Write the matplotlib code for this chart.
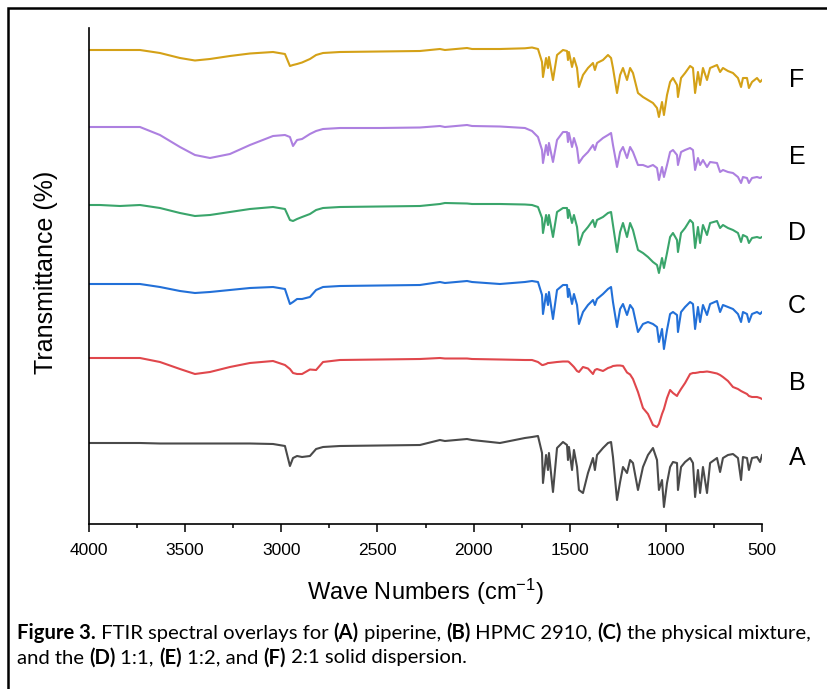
import matplotlib.pyplot as plt
from matplotlib.patches import Rectangle
from matplotlib.ticker import MultipleLocator

plt.rcParams["font.family"] = ["Liberation Sans", "DejaVu Sans"]
plt.rcParams["mathtext.fontset"] = "custom"
plt.rcParams["mathtext.rm"] = "Liberation Sans"
plt.rcParams["mathtext.default"] = "rm"

# wave numbers (cm-1) shared by every spectrum
wavenumber = [
    4000, 3943, 3839, 3735, 3631, 3527, 3449, 3371, 3267, 3163,
    3043, 2981, 2955, 2939, 2918, 2892, 2851, 2819, 2783, 2695,
    2487, 2279, 2175, 2149, 2034, 2008, 1863, 1733, 1696,
    1665, 1644, 1639, 1623, 1613, 1608, 1587, 1566, 1535, 1514,
    1509, 1504, 1488, 1478, 1462, 1452, 1431, 1405, 1379, 1369,
    1358, 1327, 1301, 1285, 1275, 1254, 1238, 1223, 1202, 1186,
    1171, 1145, 1119, 1093, 1067, 1046, 1036, 1020, 1010, 994,
    978, 963, 942, 937, 921, 900, 874, 859, 848, 833,
    822, 807, 786, 770, 734, 718, 703, 677, 651, 625,
    609, 599, 578, 568, 552, 526, 510, 500,
]

# relative transmittance of each sample (0 = flat baseline)
piperine = [
    0, 0, 0, 0, -0.5, -0.5, -0.5, -0.5, -0.5, -0.5,
    -1, -3, -23, -15, -13, -14, -13, -6, -4, -3,
    -2.5, -2, 3, 2, 4, 3, 0, 5, 6,
    7, -10, -40, -12, -27, -10, -49, -5, 1, -2,
    -17, -4, -27, -7, -24, -47, -50, -30, -15, -27,
    -12, -5, 0, 1, -14, -57, -39, -24, -30, -17,
    -20, -47, -24, -12, -5, -17, -47, -37, -64, -40,
    -24, -19, -20, -47, -24, -19, -15, -20, -54, -27,
    -50, -24, -50, -20, -15, -29, -15, -12, -11, -15,
    -37, -14, -15, -27, -15, -14, -19, -12,
]
hpmc_2910 = [
    0, 0, 0, 0, -4, -11, -16, -14, -9, -5,
    -3, -7, -11, -15, -16, -16, -11.5, -12, -4, -2,
    -1.5, -1, 0, -0.5, -0.5, -1, -1.5, -2, -2,
    -4, -7, -7, -6, -5, -5, -4.5, -4, -3.5, -3.5,
    -3.5, -4, -7, -9, -13, -14, -9, -10.5, -16, -12,
    -11, -13, -10, -9, -8, -7.5, -7.5, -8, -14.5, -16.5,
    -21, -34, -50, -56, -67, -69, -66, -56, -51, -40,
    -32, -35, -38, -36, -31, -25, -16, -15, -15, -14.5,
    -14, -14, -13.5, -14, -15.5, -17, -19, -23, -29, -31,
    -33, -34, -36, -38, -39, -39, -40, -41,
]
physical_mixture = [
    0, 0, 0, 0, -3, -7, -9, -8, -6, -4,
    -3, -5, -20, -18, -15, -15, -13, -6, -3, -2,
    -1.5, -1, 2, 1, 3, 2, 0, 2, 3,
    2, -11, -30, -10, -21, -8, -35, -6, -1, -1,
    -13, -5, -20, -10, -21, -40, -28, -21, -16, -21,
    -15, -10, -5, -3, -18, -43, -25, -20, -31, -21,
    -25, -48, -40, -38, -40, -43, -58, -45, -65, -46,
    -30, -28, -31, -48, -28, -23, -18, -20, -45, -23,
    -38, -21, -31, -20, -17, -28, -21, -23, -25, -30,
    -38, -28, -30, -38, -30, -28, -30, -28,
]
sd_1_1 = [
    0, 0, -1, 0, -3, -8, -11, -10, -7, -4,
    -2, -4, -15, -16, -14, -12, -9, -5, -3, -2,
    -1.5, -1, 1, 2, 1.5, 1, 1, 0.5, 0,
    -2, -13, -28, -10, -20, -10, -32, -7, -3, -3,
    -13, -5, -18, -10, -22, -40, -28, -22, -15, -22,
    -15, -12, -8, -7, -20, -47, -27, -18, -32, -18,
    -25, -45, -48, -52, -57, -60, -68, -53, -63, -48,
    -32, -28, -35, -47, -28, -23, -15, -18, -43, -22,
    -38, -20, -30, -18, -16, -23, -20, -23, -25, -28,
    -37, -30, -32, -38, -33, -32, -33, -32,
]
sd_1_2 = [
    0, 0, 0, 0, -8, -20, -28, -31, -27, -18,
    -9, -8, -10, -19, -13, -12, -7, -4, -2, -1,
    -1, -0.5, 1, 0, 2, 1, 0.5, -1, -4,
    -10, -23, -36, -18, -28, -16, -35, -13, -5, -5,
    -15, -6, -20, -11, -21, -36, -30, -25, -18, -23,
    -16, -11, -8, -6, -18, -40, -25, -20, -31, -20,
    -25, -38, -38, -40, -38, -41, -53, -40, -50, -38,
    -25, -23, -28, -38, -25, -23, -21, -23, -43, -31,
    -38, -33, -40, -35, -36, -45, -43, -45, -46, -50,
    -56, -50, -51, -56, -51, -50, -51, -50,
]
sd_2_1 = [
    0, 0, 0, 0, -3, -8, -10.5, -9, -6, -3.5,
    -2, -4, -16, -15, -14, -12.5, -9, -5, -3, -2,
    -1.5, -1, 1, 0, 2, 1, 1, 1.7, 2.5,
    1, -12, -27, -8, -18, -7, -30, -5, 0, -1,
    -10, -2, -17, -8, -18, -37, -25, -18, -13, -20,
    -13, -10, -5, -8, -18, -43, -25, -18, -30, -18,
    -23, -43, -47, -50, -53, -58, -67, -52, -65, -45,
    -32, -28, -35, -47, -28, -23, -16, -18, -43, -22,
    -35, -18, -30, -18, -15, -22, -18, -21, -23, -28,
    -37, -28, -28, -38, -32, -28, -32, -30,
]

labels = ["A", "B", "C", "D", "E", "F"]
spectra = [piperine, hpmc_2910, physical_mixture, sd_1_1, sd_1_2, sd_2_1]

colors = ["#4a4a4a", "#e0474c", "#2270d8", "#3aa56b", "#ad80e0", "#d4a117"]
offsets = [81, 166, 240, 319, 397, 474]
label_y = [66, 141, 218, 291, 367, 444]

fig = plt.figure(figsize=(8.28, 6.89), dpi=100)
ax = fig.add_axes([89 / 828, 1 - 524 / 689, 673 / 828, 496 / 689])

for vals, off, col, lab, ly in zip(spectra, offsets, colors, labels, label_y):
    ax.plot(wavenumber, [v + off for v in vals], color=col, lw=1.5)
    ax.text(1.052, ly, lab, transform=ax.get_yaxis_transform(),
            ha="center", va="center", fontsize=18)

ax.set_xlim(4000, 500)
ax.set_ylim(0, 496)
ax.set_yticks([])
ax.xaxis.set_major_locator(MultipleLocator(500))
ax.xaxis.set_minor_locator(MultipleLocator(250))
ax.tick_params(axis="x", which="major", direction="out", length=5.5, width=1.1,
               labelsize=12.5, pad=8)
ax.tick_params(axis="x", which="minor", direction="out", length=3, width=1.1)
for s in ["top", "right"]:
    ax.spines[s].set_visible(False)
for s in ["left", "bottom"]:
    ax.spines[s].set_linewidth(1.2)

fig.text(46 / 828, 1 - 272 / 689, "Transmittance (%)", rotation=90,
         ha="center", va="center", fontsize=18)
fig.text(425.5 / 828, 1 - 592 / 689, "Wave Numbers (cm$^{-1}$)",
         ha="center", va="center", fontsize=17)

# outer frame around chart and caption
fig.patches.append(Rectangle((8 / 828, -0.05), 1.0, 1.05 - 8 / 689,
                             transform=fig.transFigure, fill=False,
                             lw=1.8, ec="black"))

# caption with bold parts
caption = [
    [("Figure 3.", True), (" FTIR spectral overlays for ", False), ("(A)", True),
     (" piperine, ", False), ("(B)", True), (" HPMC 2910, ", False), ("(C)", True),
     (" the physical mixture,", False)],
    [("and the ", False), ("(D)", True), (" 1:1, ", False), ("(E)", True),
     (" 1:2, and ", False), ("(F)", True), (" 2:1 solid dispersion.", False)],
]
renderer = fig.canvas.get_renderer()
for i, line in enumerate(caption):
    x = 17 / 828
    y = 1 - (633 + 25 * i) / 689
    for txt, bold in line:
        t = fig.text(x, y, txt, fontsize=14.6, family="Lato",
                     fontweight="bold" if bold else "normal",
                     ha="left", va="center")
        bb = t.get_window_extent(renderer)
        x += bb.width / fig.bbox.width

fig.savefig("out.png", dpi=100)
